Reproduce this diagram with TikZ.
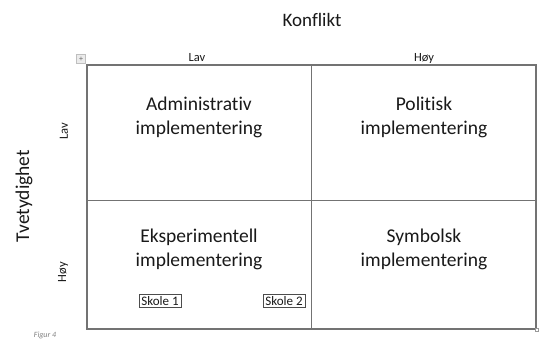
\documentclass[tikz,border=0pt]{standalone}
\usepackage{fontspec}
\setmainfont[Ligatures=NoCommon]{Carlito}
\begin{document}
\begin{tikzpicture}[x=1pt,y=-1pt,
  grid/.style={draw=black!55,line width=1.2pt},
  cell/.style={align=center,font=\fontsize{19.5}{24}\selectfont,text=black!90},
  axis/.style={font=\fontsize{12.5}{14}\selectfont,text=black!90},
  school/.style={draw=black!70,line width=0.6pt,inner xsep=2.5pt,inner ysep=2pt,font=\fontsize{13}{15}\selectfont,text=black!90}]
\useasboundingbox[fill=white] (0,0) rectangle (541,338);
% table frame and dividers
\coordinate (tl) at (87,65);
\coordinate (br) at (536,329);
\draw[grid] (tl) rectangle (br);
\draw[grid] (311.7,65) -- (311.7,329);
\draw[grid] (87,200.5) -- (536,200.5);
% table handle
\node[draw=black!25,fill=black!8,minimum size=9pt,inner sep=0pt,font=\fontsize{8}{8}\selectfont,text=black!60] (handle) at (81,59) {+};
\node[draw=black!40,fill=white,minimum size=3pt,inner sep=0pt] (corner) at (537,330) {};
% axis titles
\node[font=\fontsize{19}{22}\selectfont,text=black!90] (konflikt) at (312,20) {Konflikt};
\node[font=\fontsize{19.5}{22}\selectfont,text=black!90,rotate=90] (tvet) at (24,196) {Tvetydighet};
\node[axis] (collav) at (197,58) {Lav};
\node[axis] (colhoy) at (424,58) {Høy};
\node[axis,rotate=90] (rowlav) at (64,131) {Lav};
\node[axis,rotate=90] (rowhoy) at (63,272) {Høy};
% cells
\node[cell] (admin) at (199,117) {Administrativ\\implementering};
\node[cell] (pol) at (424,117) {Politisk\\implementering};
\node[cell] (eksp) at (199,249) {Eksperimentell\\implementering};
\node[cell] (symb) at (424,249) {Symbolsk\\implementering};
\node[school] (s1) at (160,301) {Skole 1};
\node[school] (s2) at (284,301) {Skole 2};
% caption
\node[font=\itshape\fontsize{8}{9}\selectfont,text=black!50] (fig) at (45,335) {Figur 4};
\end{tikzpicture}
\end{document}
